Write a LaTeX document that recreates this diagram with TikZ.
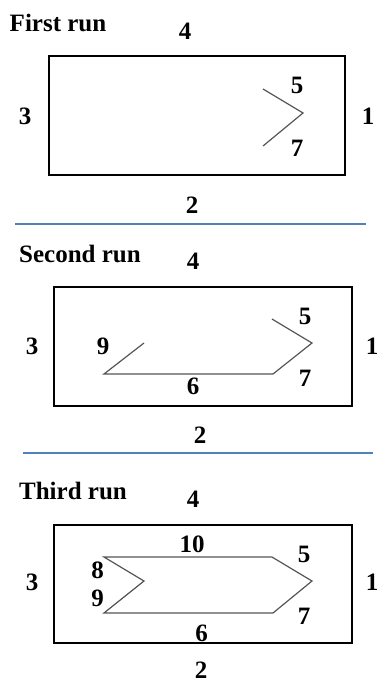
\documentclass[tikz,border=0pt]{standalone}
\usepackage{fontspec}
\setmainfont{Liberation Serif}
\usepackage{tikz}
\usetikzlibrary{positioning}
\definecolor{rule}{RGB}{79,129,189}
\definecolor{trackgray}{RGB}{85,85,85}

\begin{document}
\begin{tikzpicture}[x=1pt, y=-1pt,
    every node/.style={inner sep=0pt, font=\bfseries\fontsize{25}{28}\selectfont},
    frame/.style={draw=black, line width=2.4pt},
    track/.style={draw=trackgray, line width=1.2pt, line join=miter},
    divider/.style={draw=rule, line width=2pt}]
  \useasboundingbox (0,0) rectangle (379,685);

  % first run
  \node (title1) at (58,22.5) {First run};
  \draw[frame] (49,56) rectangle (345,175);
  \node (top1) at (185,31.5) {4};
  \node (left1) at (25,116) {3};
  \node (right1) at (368,116) {1};
  \node (bot1) at (192,205) {2};
  \node (five1) at (297,85) {5};
  \node (seven1) at (297,148) {7};
  \coordinate (p1a) at (263,89);
  \coordinate (p1b) at (303,113);
  \coordinate (p1c) at (263,146);
  \draw[track] (p1a) -- (p1b) -- (p1c);
  \coordinate (d1a) at (15,224);
  \coordinate (d1b) at (366,224);
  \draw[divider] (d1a) -- (d1b);

  % second run
  \node (title2) at (80,253.5) {Second run};
  \draw[frame] (54,287) rectangle (352,406);
  \node (top2) at (193,261.5) {4};
  \node (left2) at (32,346) {3};
  \node (right2) at (372,346) {1};
  \node (bot2) at (200,435) {2};
  \node (nine2) at (103,346.5) {9};
  \node (five2) at (305,316.5) {5};
  \node (seven2) at (305,378.5) {7};
  \node (six2) at (193,386.5) {6};
  \coordinate (p2a) at (272,319);
  \coordinate (p2b) at (312,343);
  \coordinate (p2c) at (273,374);
  \coordinate (p2d) at (104,374);
  \coordinate (p2e) at (144,343);
  \draw[track] (p2a) -- (p2b) -- (p2c) -- (p2d) -- (p2e);
  \coordinate (d2a) at (23,453);
  \coordinate (d2b) at (373,453);
  \draw[divider] (d2a) -- (d2b);

  % third run
  \node (title3) at (73,491) {Third run};
  \draw[frame] (54,525) rectangle (352,643);
  \node (top3) at (193,499.5) {4};
  \node (left3) at (32,582.5) {3};
  \node (right3) at (372,582.5) {1};
  \node (bot3) at (201,670) {2};
  \node (ten3) at (192,544.5) {10};
  \node (eight3) at (97.5,570) {8};
  \node (nine3) at (97.5,598.5) {9};
  \node (five3) at (304,554.5) {5};
  \node (seven3) at (304,616.5) {7};
  \node (six3) at (201.5,633.5) {6};
  \coordinate (p3a) at (104,557);
  \coordinate (p3b) at (272,557);
  \coordinate (p3c) at (312,581);
  \coordinate (p3d) at (273,613);
  \coordinate (p3e) at (104,613);
  \coordinate (p3f) at (144,581);
  \draw[track] (p3a) -- (p3b) -- (p3c) -- (p3d) -- (p3e) -- (p3f) -- cycle;
\end{tikzpicture}
\end{document}
